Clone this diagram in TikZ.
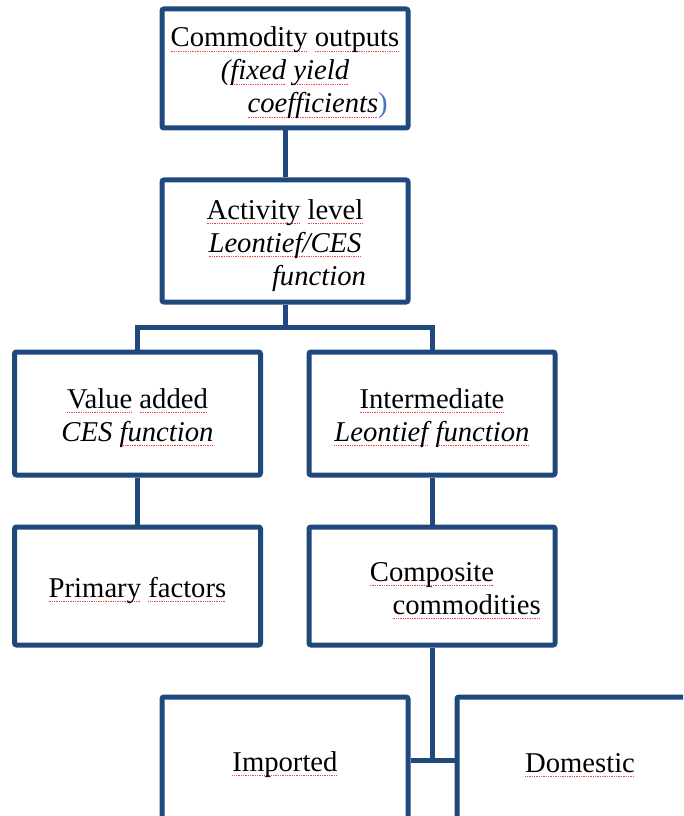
\documentclass[tikz,border=0pt]{standalone}
\usepackage{fontspec}
\setmainfont{Liberation Serif}
\definecolor{boxblue}{RGB}{31,73,125}
\definecolor{parenblue}{RGB}{68,114,196}
% red dotted spell-check line under a word
\newsavebox\spellbox
\newcommand\spell[1]{\sbox\spellbox{#1}\rlap{\color{red!75}\hbox to\wd\spellbox{\xleaders\hbox{\rule[-0.16em]{0.6pt}{0.5pt}\kern0.7pt}\hfil}}\usebox\spellbox}
% pushes the text a bit lower in its box
\newcommand\topgap{\rule{0pt}{21.5pt}}
\begin{document}
\begin{tikzpicture}[x=0.75pt,y=-0.75pt]
		\tikzstyle{box}=[draw=boxblue,line width=3.75pt,rounded corners=1.5pt,fill=white,minimum width=184.5pt,align=center,inner sep=0pt,font=\fontsize{21.5}{24.75}\selectfont]
		\tikzstyle{link}=[draw=boxblue,line width=3.75pt]
		\useasboundingbox[fill=white] (0,0) rectangle (683,816);
		\clip (0,0) rectangle (683,816);
		\node[box,minimum height=89.25pt](out)at(285,68.5){\topgap\spell{Commodity} \spell{outputs}\\\textit{(\spell{fixed} \spell{yield}}\\\hspace*{49pt}\textit{\spell{coefficients}}\textcolor{parenblue}{)}};
		\node[box,minimum height=91.5pt](act)at(285,241){\topgap\spell{Activity} \spell{level}\\\textit{\spell{Leontief/CES}}\\\hspace*{51pt}\textit{function}};
		\node[box,minimum height=92.25pt](va)at(137.5,413.5){\topgap\spell{Value} \spell{added}\\\textit{CES \spell{function}}};
		\node[box,minimum height=92.25pt](int)at(432,413.5){\topgap\spell{Intermediate}\\\textit{\spell{Leontief} \spell{function}}};
		\node[box,minimum height=88.5pt](pf)at(137.5,586){\topgap\spell{Primary} \spell{factors}};
		\node[box,minimum height=88.5pt](comp)at(432,586){\topgap\spell{Composite}\\\hspace*{52pt}\spell{commodities}};
		\node[box,minimum height=94.5pt](imp)at(285,760){\topgap\spell{Imported}};
		\node[box,minimum height=94.5pt](dom)at(580,760){\topgap\spell{Domestic}};
		\coordinate(bus)at(285,327);
		\path[link] (out) -- (act)
		(act) -- (bus)
		(va) -- (va |- bus) -- (int |- bus) -- (int)
		(va) -- (pf)
		(int) -- (comp)
		(comp) -- (comp |- imp)
		(imp) -- (dom);
\end{tikzpicture}
\end{document}
